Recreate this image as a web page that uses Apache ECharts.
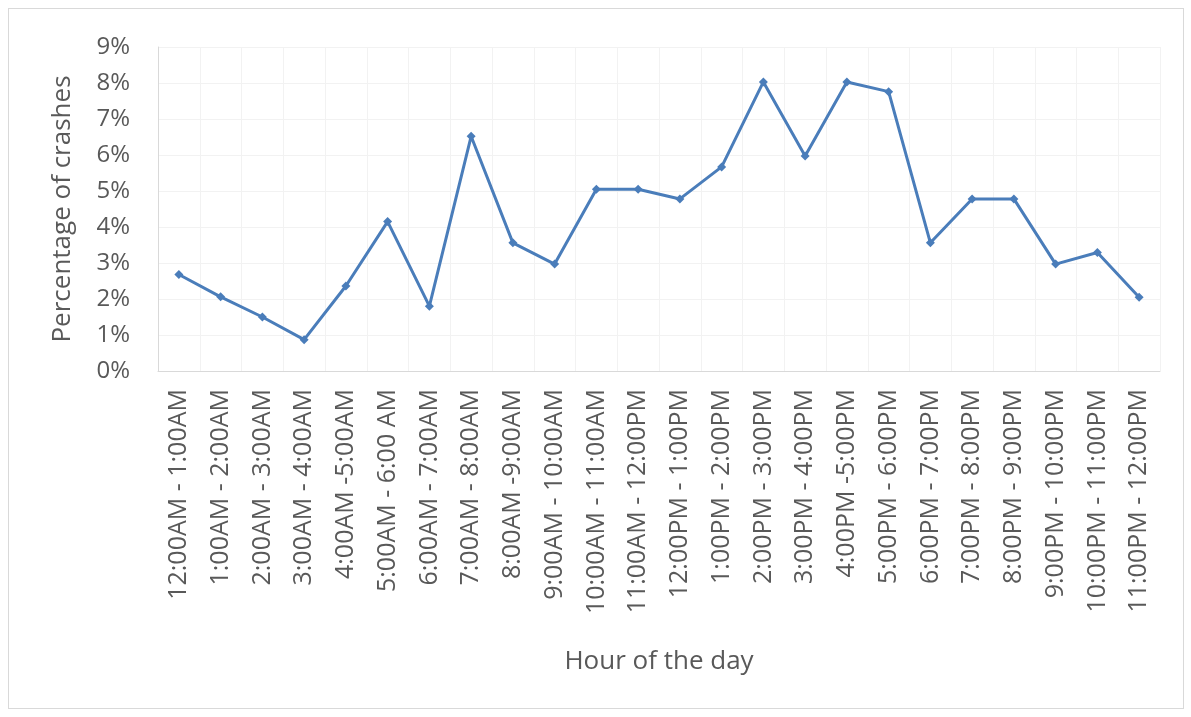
<!DOCTYPE html>
<html>
<head>
<meta charset="utf-8">
<script src="https://cdn.jsdelivr.net/npm/echarts@6/dist/echarts.min.js"></script>
<style>
  html, body { margin: 0; padding: 0; background: #fff; }
  #frame { position: absolute; left: 8px; top: 8px; width: 1174px; height: 699px; border: 1px solid #d9d9d9; }
  #chart { width: 1191px; height: 717px; }
</style>
</head>
<body>
<div id="frame"></div>
<div id="chart"></div>
<script>
// hour bands
const hours = [
  "12:00AM - 1:00AM", "1:00AM - 2:00AM", "2:00AM - 3:00AM", "3:00AM - 4:00AM",
  "4:00AM -5:00AM", "5:00AM - 6:00 AM", "6:00AM - 7:00AM", "7:00AM - 8:00AM",
  "8:00AM -9:00AM", "9:00AM - 10:00AM", "10:00AM - 11:00AM", "11:00AM - 12:00PM",
  "12:00PM - 1:00PM", "1:00PM - 2:00PM", "2:00PM - 3:00PM", "3:00PM - 4:00PM",
  "4:00PM -5:00PM", "5:00PM - 6:00PM", "6:00PM - 7:00PM", "7:00PM - 8:00PM",
  "8:00PM - 9:00PM", "9:00PM - 10:00PM", "10:00PM - 11:00PM", "11:00PM - 12:00PM"
];
// percentage of crashes per hour
const crashPct = [
  2.68, 2.06, 1.50, 0.87, 2.36, 4.15, 1.80, 6.52,
  3.56, 2.97, 5.05, 5.05, 4.78, 5.67, 8.03, 5.97,
  8.03, 7.76, 3.56, 4.78, 4.78, 2.97, 3.29, 2.05
];
const yTicks = [0, 1, 2, 3, 4, 5, 6, 7, 8, 9];

const chart = echarts.init(document.getElementById("chart"));
chart.setOption({
  animation: false,
  textStyle: { fontFamily: "Open Sans" },
  grid: { left: 158, right: 31, top: 47, bottom: 346, containLabel: false },
  xAxis: {
    type: "category",
    data: hours,
    boundaryGap: true,
    name: "Hour of the day",
    nameLocation: "middle",
    nameGap: 278,
    nameTextStyle: { color: "#595959", fontSize: 26 },
    axisLine: { lineStyle: { color: "#d9d9d9", width: 1 } },
    axisTick: { show: false },
    axisLabel: { interval: 0, rotate: 90, margin: 18, color: "#595959", fontSize: 25 },
    splitLine: { show: true, interval: 0, lineStyle: { color: "#f2f2f2" } }
  },
  yAxis: {
    type: "value",
    min: yTicks[0],
    max: yTicks[yTicks.length - 1],
    interval: 1,
    name: "Percentage of crashes",
    nameLocation: "middle",
    nameGap: 82,
    nameTextStyle: { color: "#595959", fontSize: 26 },
    axisLine: { show: true, lineStyle: { color: "#d9d9d9" } },
    axisTick: { show: false },
    axisLabel: { margin: 28, color: "#595959", fontSize: 24, formatter: "{value}%" },
    splitLine: { lineStyle: { color: "#f2f2f2" } }
  },
  series: [{
    type: "line",
    data: crashPct,
    symbol: "diamond",
    symbolSize: 9,
    lineStyle: { color: "#4a7dba", width: 3 },
    itemStyle: { color: "#4a7dba" }
  }]
});
</script>
</body>
</html>
